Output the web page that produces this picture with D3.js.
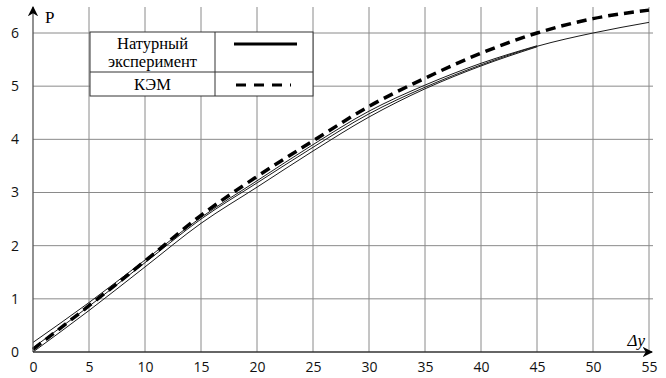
<!DOCTYPE html>
<html>
<head>
<meta charset="utf-8">
<script src="https://cdn.jsdelivr.net/npm/d3@7"></script>
<style>
  body { margin: 0; background: #fff; }
  svg { display: block; }
  .tick text { font-family: "Open Sans", "DejaVu Sans", sans-serif; font-size: 14px; fill: #111; }
</style>
</head>
<body>
<svg id="chart" width="666" height="378"></svg>
<script>
// значения
let xTicks = [0, 5, 10, 15, 20, 25, 30, 35, 40, 45, 50, 55];
let yTicks = [0, 1, 2, 3, 4, 5, 6];

// КЭМ (пунктир)
let kemX = [0, 5, 10, 15, 20, 25, 30, 35, 40, 45, 50, 55];
let kemP = [0.05, 0.87, 1.71, 2.57, 3.3, 3.97, 4.62, 5.15, 5.62, 6.0, 6.27, 6.43];

// натурный эксперимент - несколько реализаций
let expX1 = [0, 5, 10, 15, 20, 25, 30, 35, 40, 45, 50, 55];
let expP1 = [0.08, 0.86, 1.68, 2.5, 3.18, 3.85, 4.48, 4.98, 5.4, 5.75, 6.0, 6.2];
let expX2 = [0, 5, 10, 15, 20, 25, 30, 35, 40, 45];
let expP2 = [0.0, 0.78, 1.6, 2.42, 3.1, 3.78, 4.42, 4.95, 5.38, 5.74];
let expX3 = [0, 5, 10, 15, 20, 25, 30, 35, 40, 45];
let expP3 = [0.18, 0.93, 1.73, 2.53, 3.22, 3.9, 4.53, 5.02, 5.43, 5.76];

let legendNames = ["Натурный", "эксперимент", "КЭМ"];

let serif = "'Liberation Serif', 'DejaVu Serif', serif";
let svg = d3.select("#chart");

let x = d3.scaleLinear().domain([0, 55]).range([33, 649]);
let y = d3.scaleLinear().domain([0, 6]).range([352, 33]);
let yTop = 7;

// сетка
let grid = svg.append("g");
grid.selectAll("line.v")
    .data(xTicks.slice(1))
    .enter()
    .append("line")
    .attr("x1", d => x(d)).attr("x2", d => x(d))
    .attr("y1", yTop).attr("y2", y(0))
    .attr("stroke", "#8a8a8a").attr("stroke-width", 1);
grid.selectAll("line.h")
    .data(yTicks.slice(1))
    .enter()
    .append("line")
    .attr("x1", x(0)).attr("x2", x(55) + 4)
    .attr("y1", d => y(d)).attr("y2", d => y(d))
    .attr("stroke", "#8a8a8a").attr("stroke-width", 1);

// подписи осей (только текст)
let xAxis = d3.axisBottom(x).tickValues(xTicks).tickSize(0).tickPadding(10);
svg.append("g")
    .attr("transform", `translate(0, ${y(0)})`)
    .call(xAxis)
    .call(g => g.select(".domain").remove());
let yAxis = d3.axisLeft(y).tickValues(yTicks).tickFormat(d3.format("d"))
    .tickSize(0).tickPadding(14);
svg.append("g")
    .attr("transform", `translate(${x(0)}, 0)`)
    .call(yAxis)
    .call(g => g.select(".domain").remove());

// кривые
let line = d3.line().curve(d3.curveMonotoneX);
function pts(xs, ps) { return xs.map((v, i) => [x(v), y(ps[i])]); }

[[expX2, expP2], [expX3, expP3], [expX1, expP1]].forEach(s => {
    svg.append("path")
        .attr("d", line(pts(s[0], s[1])))
        .attr("fill", "none")
        .attr("stroke", "#1a1a1a")
        .attr("stroke-width", 1);
});
svg.append("path")
    .attr("d", line(pts(kemX, kemP)))
    .attr("fill", "none")
    .attr("stroke", "#000")
    .attr("stroke-width", 3.5)
    .attr("stroke-dasharray", "10,6");

// оси со стрелками
svg.append("defs").append("marker")
    .attr("id", "arr")
    .attr("viewBox", "0 0 10 10")
    .attr("refX", 9).attr("refY", 5)
    .attr("markerWidth", 8).attr("markerHeight", 8)
    .attr("orient", "auto")
    .append("path")
    .attr("d", "M0,0 L10,5 L0,10 L3,5 z")
    .attr("fill", "#000");
svg.append("line")
    .attr("x1", x(0)).attr("x2", x(0))
    .attr("y1", y(0)).attr("y2", yTop)
    .attr("stroke", "#555").attr("stroke-width", 1.3)
    .attr("marker-end", "url(#arr)");
svg.append("line")
    .attr("x1", x(0)).attr("x2", x(55) + 3)
    .attr("y1", y(0)).attr("y2", y(0))
    .attr("stroke", "#333").attr("stroke-width", 1.3)
    .attr("marker-end", "url(#arr)");
svg.append("text")
    .style("font-family", serif)
    .style("font-size", "17px")
    .attr("x", x(0) + 12).attr("y", 23)
    .text("P");
svg.append("text")
    .style("font-family", serif)
    .style("font-size", "17px")
    .style("font-style", "italic")
    .attr("x", x(55) - 4).attr("y", y(0) - 6)
    .attr("text-anchor", "end")
    .text("Δy");

// легенда
let leg = svg.append("g");
let lx = 90, ly = 32, lw = 223, lh = 64, colX = 215, rowY = 72;
leg.append("rect")
    .attr("x", lx).attr("y", ly).attr("width", lw).attr("height", lh)
    .attr("fill", "#fff").attr("stroke", "#333").attr("stroke-width", 1);
leg.append("line")
    .attr("x1", colX).attr("x2", colX).attr("y1", ly).attr("y2", ly + lh)
    .attr("stroke", "#333");
leg.append("line")
    .attr("x1", lx).attr("x2", lx + lw).attr("y1", rowY).attr("y2", rowY)
    .attr("stroke", "#333");
[[legendNames[0], 49], [legendNames[1], 67], [legendNames[2], 90]].forEach(t => {
    leg.append("text")
        .style("font-family", serif)
        .style("font-size", "16.5px")
        .attr("x", (lx + colX) / 2).attr("y", t[1])
        .attr("text-anchor", "middle")
        .text(t[0]);
});
leg.append("line")
    .attr("x1", 234).attr("x2", 297).attr("y1", 44).attr("y2", 44)
    .attr("stroke", "#000").attr("stroke-width", 3);
leg.append("line")
    .attr("x1", 236).attr("x2", 291).attr("y1", 85).attr("y2", 85)
    .attr("stroke", "#000").attr("stroke-width", 3)
    .attr("stroke-dasharray", "10,8");
</script>
</body>
</html>
